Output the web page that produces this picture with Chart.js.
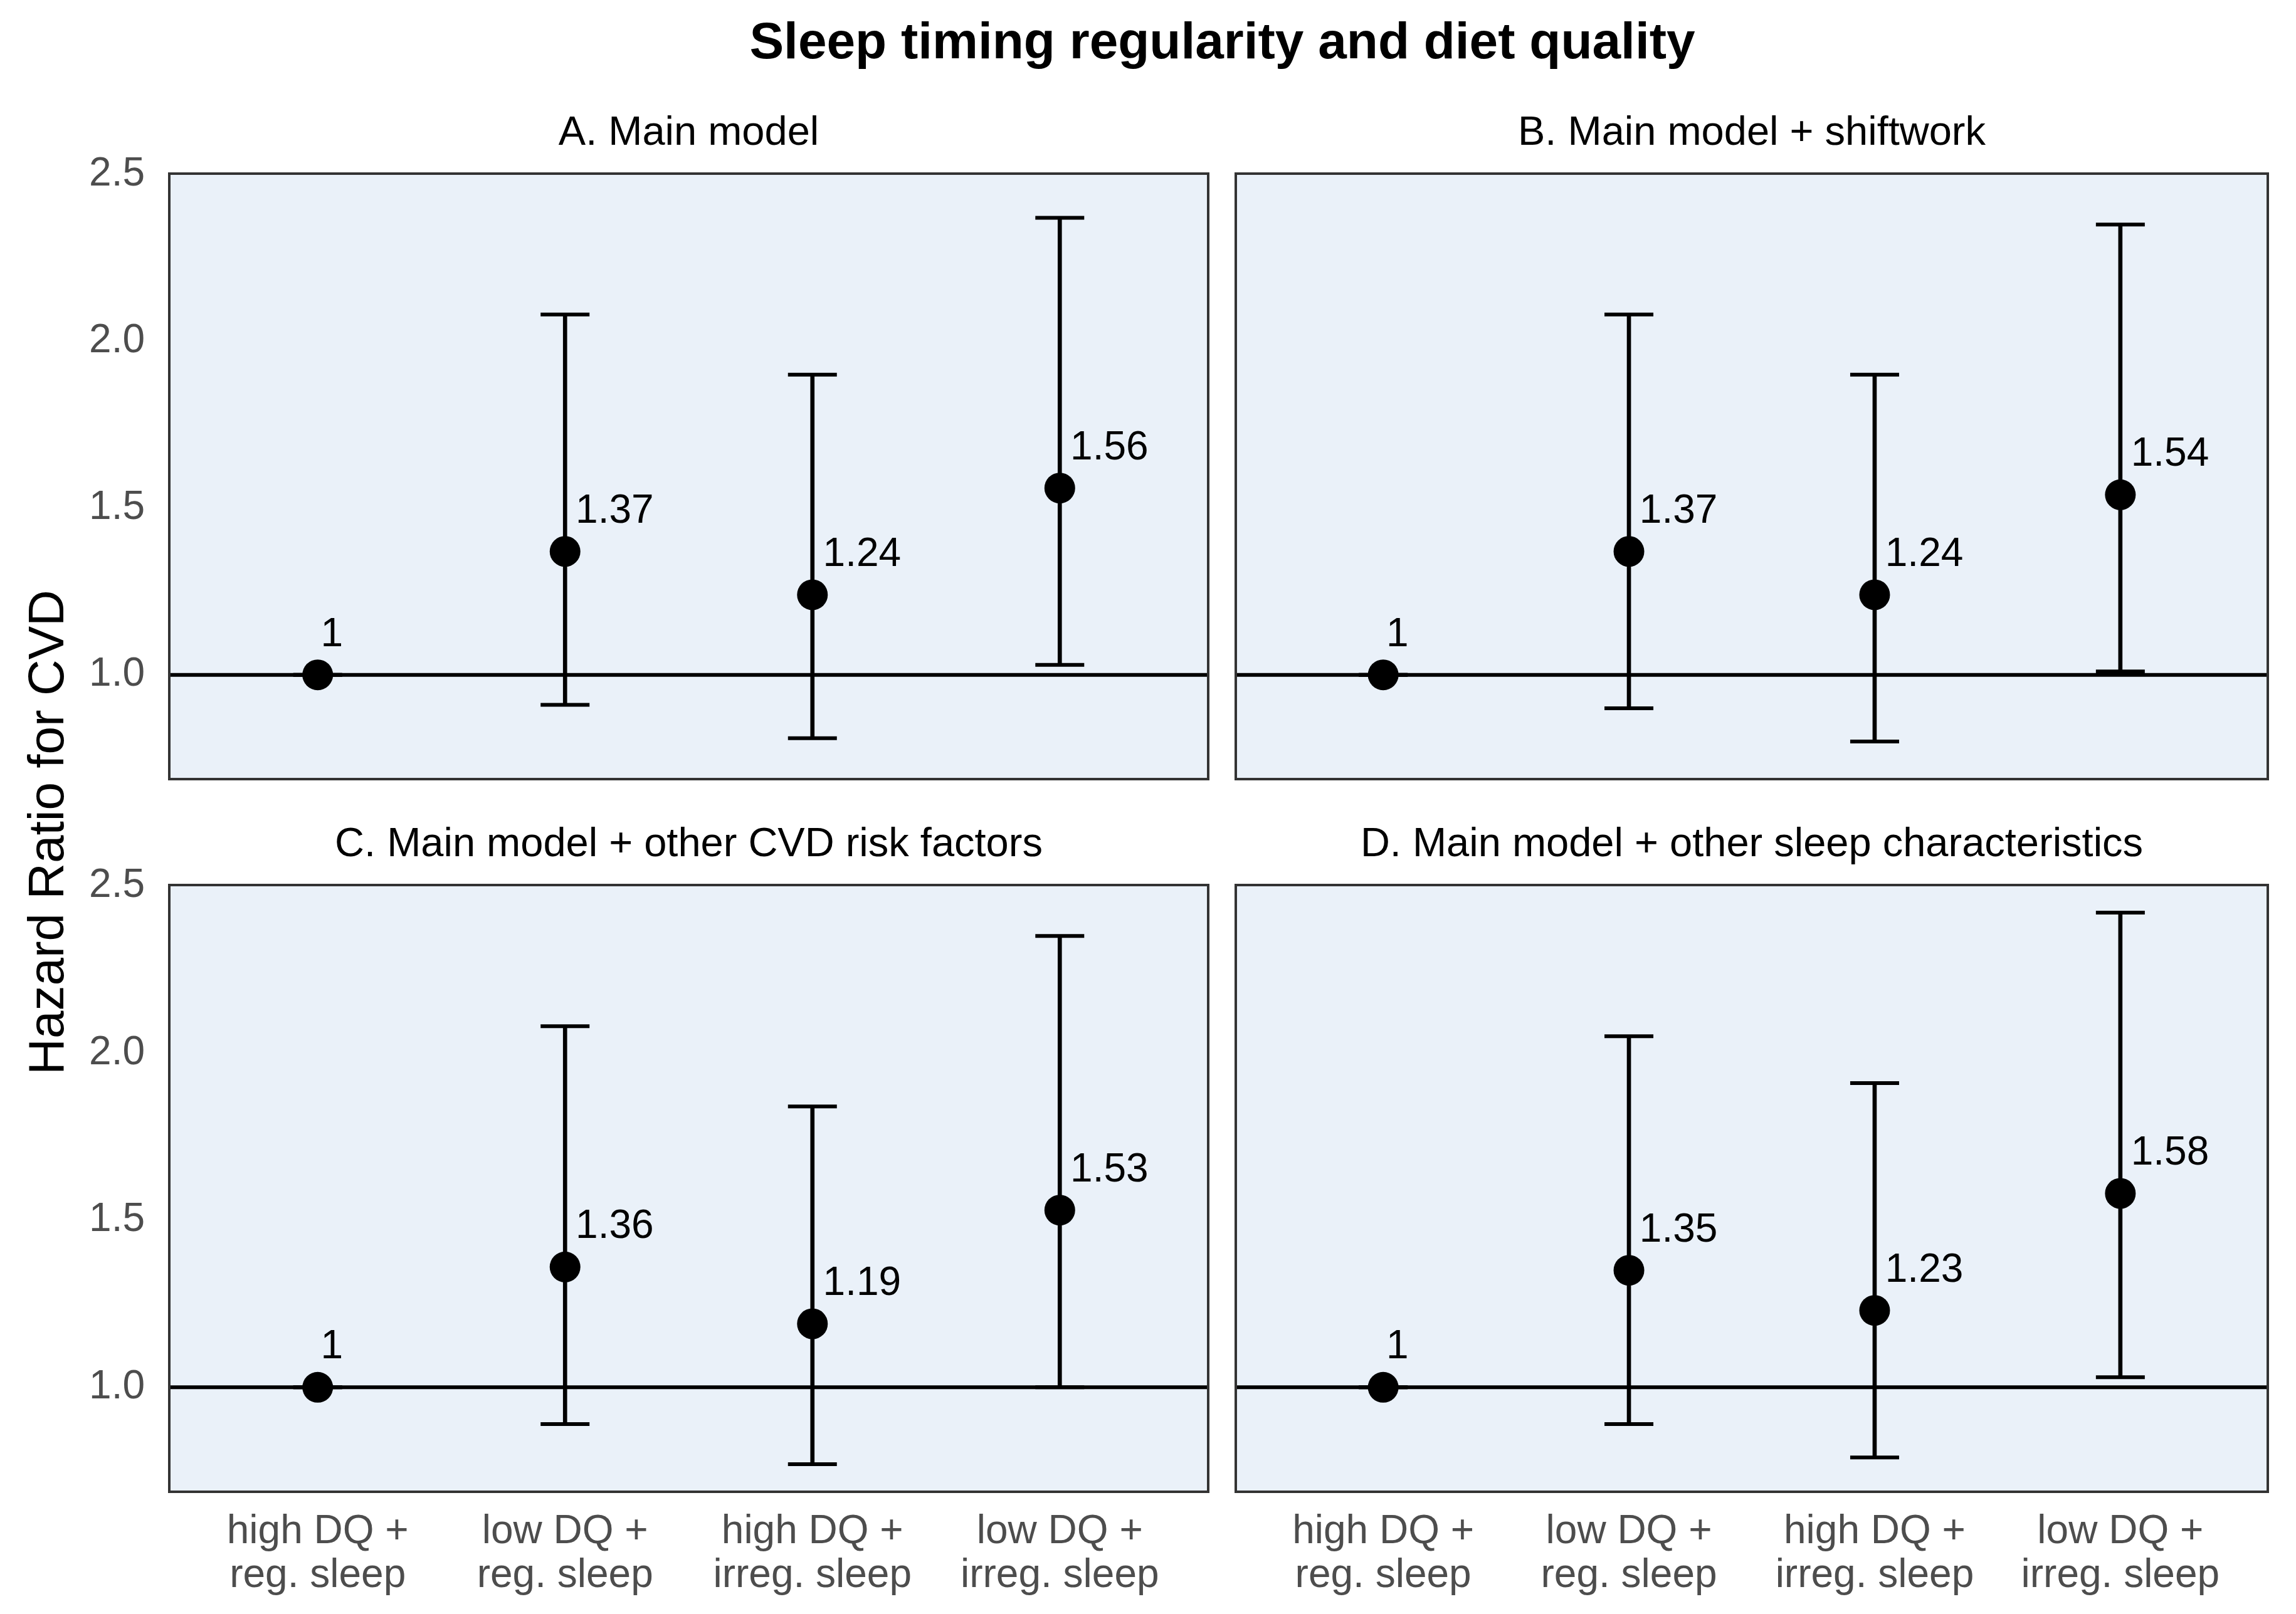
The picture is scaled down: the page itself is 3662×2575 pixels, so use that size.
<!DOCTYPE html>
<html>
<head>
<meta charset="utf-8">
<title>Sleep timing regularity and diet quality</title>
<script src="https://cdn.jsdelivr.net/npm/chart.js@4"></script>
<style>
  html, body { margin: 0; padding: 0; background: #fff; }
  body { width: 3662px; height: 2575px; position: relative; overflow: hidden; font-family: 'Liberation Sans', Arial, sans-serif; }
  canvas { position: absolute; left: 0; top: 0; }
  #title { position: absolute; left: 270px; width: 3359px; top: 24px; font-size: 82px; line-height: 82px; font-weight: bold; text-align: center; color: #000; }
  #ytitle { position: absolute; left: -426px; top: 1288px; width: 1000px; height: 80px; font-size: 80px; line-height: 80px; text-align: center; color: #000; transform: rotate(-90deg); }
</style>
</head>
<body>
<div id="title">Sleep timing regularity and diet quality</div>
<div id="ytitle">Hazard Ratio for CVD</div>
<canvas id="cA" width="3662" height="2575"></canvas>
<canvas id="cB" width="3662" height="2575"></canvas>
<canvas id="cC" width="3662" height="2575"></canvas>
<canvas id="cD" width="3662" height="2575"></canvas>

<script>
  // categories and tick labels
  const categories = [
    ['high DQ +', 'reg. sleep'],
    ['low DQ +', 'reg. sleep'],
    ['high DQ +', 'irreg. sleep'],
    ['low DQ +', 'irreg. sleep']
  ];
  const yTicks = [1.0, 1.5, 2.0, 2.5];
  const refValue = 1;

  const panelTitles = [
    'A. Main model',
    'B. Main model + shiftwork',
    'C. Main model + other CVD risk factors',
    'D. Main model + other sleep characteristics'
  ];

  // hazard ratios and confidence intervals per panel
  const hrA = [1, 1.37, 1.24, 1.56];
  const loA = [1, 0.91, 0.81, 1.03];
  const hiA = [1, 2.08, 1.90, 2.37];

  const hrB = [1, 1.37, 1.24, 1.54];
  const loB = [1, 0.90, 0.80, 1.01];
  const hiB = [1, 2.08, 1.90, 2.35];

  const hrC = [1, 1.36, 1.19, 1.53];
  const loC = [1, 0.89, 0.77, 1.00];
  const hiC = [1, 2.08, 1.84, 2.35];

  const hrD = [1, 1.35, 1.23, 1.58];
  const loD = [1, 0.89, 0.79, 1.03];
  const hiD = [1, 2.05, 1.91, 2.42];

  const W = 3662, H = 2575;
  const FONT = "'Liberation Sans', Arial, sans-serif";
  const TITLE_H = 78 + 24.5;   // title line + padding below
  const Y_AXIS_W = 270;
  const X_AXIS_H = 195;

  const panels = [
    { id: 'cA', title: panelTitles[0], hr: hrA, lo: loA, hi: hiA, left: 270,  right: 1927, top: 277,  bottom: 1243, yAxis: true,  xAxis: false },
    { id: 'cB', title: panelTitles[1], hr: hrB, lo: loB, hi: hiB, left: 1971, right: 3629, top: 277,  bottom: 1243, yAxis: false, xAxis: false },
    { id: 'cC', title: panelTitles[2], hr: hrC, lo: loC, hi: hiC, left: 270,  right: 1927, top: 1412, bottom: 2380, yAxis: true,  xAxis: true },
    { id: 'cD', title: panelTitles[3], hr: hrD, lo: loD, hi: hiD, left: 1971, right: 3629, top: 1412, bottom: 2380, yAxis: false, xAxis: true }
  ];

  // light blue panel, reference line, value labels and border
  const panelPlugin = {
    id: 'panel',
    beforeDatasetsDraw(chart) {
      const { ctx, chartArea: a, scales } = chart;
      ctx.save();
      ctx.fillStyle = '#EAF1F9';
      ctx.fillRect(a.left, a.top, a.right - a.left, a.bottom - a.top);
      const y = scales.y.getPixelForValue(refValue);
      ctx.strokeStyle = '#000';
      ctx.lineWidth = 6;
      ctx.beginPath();
      ctx.moveTo(a.left, y);
      ctx.lineTo(a.right, y);
      ctx.stroke();
      ctx.restore();
    },
    afterDatasetsDraw(chart) {
      const { ctx, chartArea: a } = chart;
      const hr = chart.config.options.plugins.panel.hr;
      const meta = chart.getDatasetMeta(2);
      ctx.save();
      ctx.font = '64px ' + FONT;
      ctx.fillStyle = '#000';
      ctx.textAlign = 'left';
      ctx.textBaseline = 'alphabetic';
      meta.data.forEach((el, i) => {
        const t = String(hr[i]);
        const w = ctx.measureText(t).width;
        ctx.fillText(t, el.x + 0.135 * w, el.y - 46);
      });
      ctx.strokeStyle = '#333';
      ctx.lineWidth = 4;
      ctx.strokeRect(a.left, a.top, a.right - a.left, a.bottom - a.top);
      ctx.restore();
    }
  };

  panels.forEach(p => {
    const bars = categories.map((c, i) => ({ x: i, y: [p.lo[i], p.hi[i]] }));
    const caps = [];
    categories.forEach((c, i) => {
      caps.push({ x: i, y: p.lo[i] });
      caps.push({ x: i, y: p.hi[i] });
    });
    const points = categories.map((c, i) => ({ x: i, y: p.hr[i] }));

    new Chart(document.getElementById(p.id), {
      type: 'scatter',
      data: {
        datasets: [
          { type: 'bar', data: bars, backgroundColor: '#000', barThickness: 6, order: 2 },
          { type: 'scatter', data: caps, pointStyle: 'line', pointRadius: 39, borderWidth: 6, borderColor: '#000', order: 1 },
          { type: 'scatter', data: points, pointStyle: 'circle', pointRadius: 24.5, backgroundColor: '#000', borderWidth: 0, order: 0 }
        ]
      },
      options: {
        responsive: false,
        animation: false,
        devicePixelRatio: 1,
        layout: {
          padding: {
            left: p.yAxis ? p.left - Y_AXIS_W : p.left,
            top: p.top - TITLE_H,
            right: W - p.right,
            bottom: p.xAxis ? H - p.bottom - X_AXIS_H : H - p.bottom
          }
        },
        scales: {
          x: {
            type: 'linear',
            min: -0.6,
            max: 3.6,
            offset: false,
            display: p.xAxis,
            grid: { display: false, drawTicks: false, offset: false },
            border: { display: false },
            afterBuildTicks: s => { s.ticks = categories.map((c, i) => ({ value: i })); },
            afterFit: s => { s.height = p.xAxis ? X_AXIS_H : 0; },
            ticks: {
              padding: 29,
              autoSkip: false,
              maxRotation: 0,
              color: '#4D4D4D',
              font: { family: FONT, size: 64, lineHeight: 70 / 64 },
              callback: v => categories[v]
            }
          },
          y: {
            type: 'linear',
            min: 0.6875,
            max: 2.5025,
            display: p.yAxis,
            grid: { display: false, drawTicks: false },
            border: { display: false },
            afterBuildTicks: s => { s.ticks = yTicks.map(v => ({ value: v })); },
            afterFit: s => { s.width = p.yAxis ? Y_AXIS_W : 0; },
            ticks: {
              padding: 39,
              color: '#4D4D4D',
              font: { family: FONT, size: 64 },
              callback: v => v.toFixed(1)
            }
          }
        },
        plugins: {
          legend: { display: false },
          tooltip: { enabled: false },
          title: {
            display: true,
            text: p.title,
            fullSize: false,
            color: '#000',
            font: { family: FONT, size: 65, weight: 'normal', lineHeight: 1.2 },
            padding: { top: 0, bottom: 24.5 }
          },
          panel: { hr: p.hr }
        }
      },
      plugins: [panelPlugin]
    });
  });
</script>
</body>
</html>
